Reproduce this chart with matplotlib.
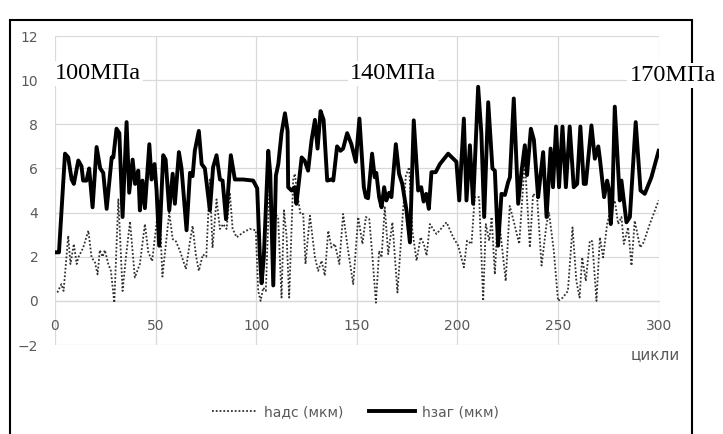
import matplotlib
matplotlib.use('Agg')
import matplotlib.pyplot as plt
from matplotlib.patches import Rectangle

# -----------------------------------------------------
# data: wear depth per cycle
# -----------------------------------------------------

x_zag = [1, 2, 5, 6.6, 8.3, 9.4, 11.6, 13.2, 14, 15.7, 17, 18.7, 20.7, 22.5, 24, 25.7,
         28.2, 29, 30.6, 32, 33.6, 35.6, 36.9, 38.6, 39.8, 41.4, 42.2, 43.5, 44.7, 46.9,
         48, 49.5, 50.5, 51.8, 53.8, 55, 56.8, 58.5, 59.6, 61.6, 62.9, 65.4, 67.1, 68.4,
         69.5, 71.5, 72.9, 74.5, 77, 78.6, 80.3, 82, 83.3, 85, 87.4, 89.4, 93.5, 98.5,
         100.5, 101.8, 102.7, 103.8, 106, 107, 108.5, 109.8, 111, 112.6, 114.3, 115.6,
         115.9, 117.6, 119.2, 120, 122.6, 124.1, 125.8, 127.5, 129.2, 130.5, 132, 133.5,
         135.3, 137.4, 138.3, 140.2, 141.9, 143.2, 145.2, 147.3, 149.5, 151.3, 153.5,
         154.5, 155.6, 157.6, 158.9, 159.7, 161.1, 162.3, 163.6, 164.7, 166.1, 167.2,
         169.4, 171, 172.6, 174.7, 176.4, 178.3, 180.5, 182, 183.2, 184.5, 185.8, 187.1,
         189.2, 191.3, 195.4, 199.5, 200.9, 203.2, 204.5, 206.2, 207.8, 210.3, 211.9,
         213.3, 215.3, 217.4, 218.6, 220.2, 221.9, 223.6, 225.2, 226.1, 228, 230.2,
         231.9, 233.5, 234.6, 236.5, 238, 240.1, 242.6, 244.3, 246.3, 247.5, 249, 250.5,
         252.2, 253.9, 255.8, 257.8, 259.5, 261.1, 262.8, 263.8, 266.6, 268.3, 270,
         270.8, 272.9, 274.4, 275.4, 276.2, 277, 278.2, 280.7, 281.5, 284, 285.7, 288.6,
         291, 293.1, 296.4, 300]
h_zag = [2.2, 2.2, 6.67, 6.5, 5.5, 5.3, 6.36, 6.1, 5.45, 5.45, 6.0, 4.24, 6.97, 6.0, 5.8, 4.17,
         6.5, 6.5, 7.8, 7.6, 3.8, 8.1, 4.9, 6.4, 5.3, 5.9, 4.1, 5.45, 4.2, 7.1,
         5.5, 6.2, 5.0, 2.5, 6.6, 6.4, 4.1, 5.76, 4.4, 6.74, 6.0, 3.2, 5.8, 5.65,
         6.8, 7.7, 6.2, 6.0, 4.1, 6.06, 6.6, 5.5, 5.45, 3.7, 6.6, 5.5, 5.5, 5.45,
         5.1, 2.1, 0.8, 2.0, 6.8, 5.75, 0.7, 5.68, 6.2, 7.6, 8.5, 7.7,
         5.15, 5.0, 5.15, 4.4, 6.5, 6.35, 5.9, 7.27, 8.2, 6.9, 8.6, 8.2,
         5.45, 5.5, 5.45, 7.0, 6.8, 6.9, 7.6, 7.1, 6.3, 8.26, 5.15,
         4.7, 4.65, 6.67, 5.6, 5.8, 4.7, 4.24, 5.15, 4.55, 4.9, 4.7,
         7.1, 5.76, 5.3, 4.1, 2.65, 8.18, 5.0, 5.15, 4.5, 4.85, 4.17, 5.83,
         5.83, 6.2, 6.67, 6.3, 4.55, 8.26, 4.55, 7.05, 4.4, 9.7, 7.58,
         3.8, 9.0, 6.0, 5.9, 2.5, 4.85, 4.8, 5.38, 5.6, 9.17, 4.4,
         5.9, 7.05, 5.7, 7.8, 7.3, 4.7, 6.74, 3.8, 6.9, 5.15, 7.9, 5.15,
         7.9, 5.15, 7.9, 5.15, 5.3, 7.9, 5.3, 5.3, 7.95, 6.44, 7.0,
         6.44, 4.7, 5.45, 5.0, 3.48, 4.55, 8.8, 4.55, 5.45, 3.56, 3.8, 8.1,
         5.0, 4.85, 5.6, 6.8]

x_ads = [1.2, 3.2, 4.3, 6.6, 7.7, 9.4, 10.8, 11.6, 14, 16.6, 18.2, 19.9, 21.2, 22.3, 23.7,
         24.8, 26.5, 27.8, 29.5, 31.5, 33.6, 35.3, 37.3, 39.7, 42.2, 44.7, 46.4, 48.3,
         51.8, 53.4, 56.8, 58.5, 60.1, 62.1, 65.1, 67.1, 68.4, 70, 71.5, 73.5, 75.2,
         77, 78.3, 80.3, 82, 83.6, 85.3, 86.9, 88.3, 90.3, 93.5, 96.8, 99.8, 101,
         102.2, 103.5, 104.8, 106.8, 108.3, 109.3, 110.9, 112.6, 113.8, 115.1, 116.4,
         118.4, 119.2, 120.5, 122, 123.4, 124.5, 126.7, 129.2, 130.8, 132.5, 134.1,
         135.8, 137.4, 139.1, 141.3, 143.2, 145.7, 148.2, 150.7, 152.8, 154.5, 156.2,
         157.8, 159.5, 161.1, 162.3, 163.9, 165.6, 167.7, 170.2, 173, 174.4, 176,
         177.6, 179.7, 181.7, 183.3, 184.7, 186.3, 189.6, 194.6, 197.9, 200.4, 203.2,
         204.8, 207, 208.6, 210.8, 212.8, 214.1, 215.8, 217, 218.6, 220.2, 224, 226,
         228, 230.7, 233.5, 236, 237.6, 239.6, 241.8, 244.3, 245.5, 247.9, 250, 252.4,
         254.9, 257.2, 259.1, 260.7, 262, 263.8, 265.8, 267, 269.1, 270.8, 272.4,
         274.4, 276, 278.2, 279.9, 281.5, 282.7, 284.8, 286.5, 288.1, 290.8, 292.5,
         295.6, 300]
h_ads = [0.38, 0.76, 0.45, 2.95, 1.67, 2.58, 1.67, 1.97, 2.4, 3.18, 1.97, 1.74, 1.2, 2.3, 2.0,
         2.3, 1.67, 1.36, -0.08, 4.6, 0.45, 2.0, 3.6, 1.06, 1.67, 3.48, 2.2, 1.8,
         4.55, 1.1, 4.0, 2.8, 2.7, 2.27, 1.44, 2.7, 3.4, 2.1, 1.36, 2.1, 2.0,
         5.5, 2.4, 4.6, 3.26, 3.48, 3.26, 4.9, 3.26, 2.88, 3.1, 3.26, 3.2, 0.45,
         0.0, 0.6, 0.45, 5.76, 0.76, 3.94, 3.8, 0.15, 4.1, 2.94, 0.15,
         5.5, 5.76, 4.8, 3.94, 3.94, 1.67, 3.86, 1.97, 1.36, 1.82, 1.14,
         3.18, 2.42, 2.58, 1.67, 3.94, 2.27, 0.76, 3.8, 2.58, 3.8, 3.7,
         1.97, -0.08, 2.27, 1.97, 4.24, 2.12, 3.56, 0.38, 4.1, 5.68, 6.06,
         3.18, 1.82, 2.88, 2.58, 2.05, 3.48, 3.03, 3.56, 2.88, 2.5, 1.52,
         2.73, 2.58, 4.7, 4.7, 0.0, 3.48, 2.73, 3.8, 1.2, 4.1, 0.9, 4.3,
         3.6, 2.58, 6.36, 2.42, 4.85, 4.7, 1.6, 3.48, 4.0, 2.27, 0.0, 0.15,
         0.45, 3.33, 0.9, 0.15, 1.97, 0.9, 2.73, 2.7, 0.0, 2.88, 1.97,
         3.48, 4.1, 4.55, 3.48, 3.8, 2.58, 3.33, 1.6, 3.63, 2.42, 2.65,
         3.48, 4.55]

x_ticks = [0, 50, 100, 150, 200, 250, 300]
y_ticks = [-2, 0, 2, 4, 6, 8, 10, 12]

stress_labels = ["100МПа", "140МПа", "170МПа"]
stress_x = [0, 146.5, 285.5]
stress_y = [10.3, 10.3, 10.2]

# -----------------------------------------------------
# figure
# -----------------------------------------------------

fig = plt.figure(figsize=(7.23, 4.34), dpi=100)
ax = fig.add_axes([0.076, 0.205, 0.835, 0.712])

grey = "#595959"
grid_c = "#d9d9d9"

ax.plot(x_ads, h_ads, color="#303030", lw=1.3, linestyle=(0, (1, 1.1)),
        label="hадс (мкм)", zorder=3)
ax.plot(x_zag, h_zag, color="black", lw=2.8, solid_joinstyle="round",
        label="hзаг (мкм)", zorder=4)

ax.set_xlim(0, 300)
ax.set_ylim(-2, 12)
ax.set_xticks(x_ticks)
ax.set_yticks(y_ticks)
ax.grid(True, color=grid_c, lw=0.9, zorder=0)
ax.set_axisbelow(True)

for s in ["top", "right", "left"]:
    ax.spines[s].set_visible(False)
ax.spines["bottom"].set_position(("data", 0))
ax.spines["bottom"].set_color(grid_c)
ax.spines["bottom"].set_linewidth(0.9)

ax.tick_params(axis="both", length=0, labelsize=10, labelcolor=grey)
ax.tick_params(axis="x", pad=13)
ax.tick_params(axis="y", pad=12)

# stress level labels
for lbl, sx, sy in zip(stress_labels, stress_x, stress_y):
    ax.text(sx, sy, lbl, family="Liberation Serif", fontsize=17.5, color="black",
            ha="left", va="center", zorder=6, clip_on=False,
            bbox=dict(facecolor="white", edgecolor="none", pad=1.5))

fig.text(0.906, 0.182, "цикли", fontsize=11, color=grey, ha="center", va="center")

fig.legend(loc="center", bbox_to_anchor=(0.491, 0.05), ncol=2, frameon=False,
           fontsize=10, labelcolor=grey, handlelength=3.3, columnspacing=1.8,
           handletextpad=0.5)

# outer chart frame
frame = Rectangle((0.0145, -0.1), 0.9425, 1.053, transform=fig.transFigure,
                  fill=False, edgecolor="black", lw=1.5, clip_on=False, zorder=1)
ax.add_artist(frame)

fig.savefig("out.png", dpi=100)
